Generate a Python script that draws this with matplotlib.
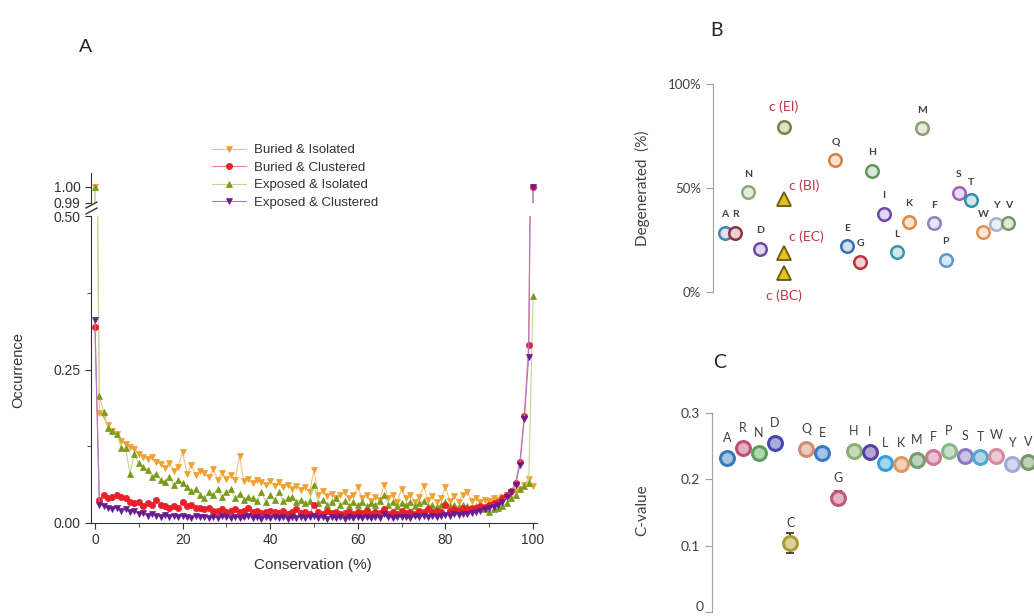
import numpy as np
import matplotlib.pyplot as plt
from matplotlib.lines import Line2D

# ---- panel A data: occurrence vs conservation (%) ----
conservation = np.arange(0, 101)

buried_isolated = [1.0,
    0.179, 0.175, 0.160, 0.150, 0.145, 0.134, 0.128, 0.124, 0.120, 0.112,
    0.108, 0.105, 0.108, 0.100, 0.096, 0.090, 0.098, 0.085, 0.092, 0.116,
    0.080, 0.094, 0.078, 0.085, 0.082, 0.075, 0.088, 0.070, 0.082, 0.072,
    0.078, 0.070, 0.109, 0.068, 0.072, 0.065, 0.070, 0.066, 0.062, 0.068,
    0.060, 0.066, 0.058, 0.062, 0.056, 0.060, 0.054, 0.058, 0.050, 0.086,
    0.046, 0.052, 0.044, 0.048, 0.040, 0.046, 0.050, 0.040, 0.045, 0.058,
    0.040, 0.046, 0.036, 0.042, 0.038, 0.062, 0.040, 0.046, 0.035, 0.055,
    0.040, 0.046, 0.034, 0.042, 0.060, 0.038, 0.044, 0.034, 0.040, 0.058,
    0.036, 0.044, 0.034, 0.046, 0.050, 0.036, 0.040, 0.034, 0.038, 0.036,
    0.040, 0.038, 0.042, 0.045, 0.048, 0.052, 0.056, 0.062, 0.072, 0.060]

buried_clustered = [0.320,
    0.038, 0.045, 0.040, 0.042, 0.045, 0.043, 0.040, 0.035, 0.033, 0.035,
    0.028, 0.033, 0.030, 0.038, 0.030, 0.028, 0.025, 0.027, 0.024, 0.035,
    0.028, 0.030, 0.025, 0.025, 0.022, 0.024, 0.020, 0.020, 0.022, 0.018,
    0.020, 0.022, 0.018, 0.020, 0.024, 0.018, 0.020, 0.016, 0.018, 0.020,
    0.018, 0.016, 0.020, 0.015, 0.018, 0.022, 0.016, 0.018, 0.015, 0.030,
    0.018, 0.015, 0.020, 0.016, 0.018, 0.014, 0.016, 0.018, 0.014, 0.018,
    0.016, 0.020, 0.015, 0.018, 0.016, 0.022, 0.015, 0.018, 0.014, 0.020,
    0.016, 0.018, 0.015, 0.020, 0.018, 0.022, 0.018, 0.020, 0.018, 0.030,
    0.020, 0.022, 0.020, 0.024, 0.022, 0.025, 0.024, 0.028, 0.026, 0.030,
    0.032, 0.035, 0.040, 0.045, 0.052, 0.065, 0.100, 0.175, 0.290, 1.000]

exposed_isolated = [1.0,
    0.207, 0.180, 0.155, 0.150, 0.145, 0.122, 0.122, 0.080, 0.113, 0.097,
    0.092, 0.086, 0.075, 0.080, 0.070, 0.067, 0.075, 0.062, 0.070, 0.065,
    0.058, 0.052, 0.055, 0.045, 0.040, 0.050, 0.045, 0.055, 0.042, 0.050,
    0.055, 0.040, 0.048, 0.038, 0.043, 0.040, 0.036, 0.050, 0.035, 0.045,
    0.038, 0.050, 0.036, 0.040, 0.043, 0.035, 0.038, 0.032, 0.036, 0.062,
    0.032, 0.038, 0.030, 0.035, 0.040, 0.030, 0.036, 0.028, 0.034, 0.030,
    0.035, 0.028, 0.032, 0.030, 0.036, 0.045, 0.030, 0.034, 0.028, 0.032,
    0.030, 0.035, 0.028, 0.032, 0.036, 0.028, 0.030, 0.026, 0.030, 0.034,
    0.028, 0.030, 0.026, 0.030, 0.028, 0.025, 0.028, 0.024, 0.022, 0.018,
    0.022, 0.025, 0.028, 0.032, 0.040, 0.045, 0.055, 0.060, 0.065, 0.370]

exposed_clustered = [0.330,
    0.030, 0.028, 0.025, 0.022, 0.025, 0.020, 0.022, 0.018, 0.020, 0.015,
    0.016, 0.012, 0.015, 0.012, 0.010, 0.013, 0.010, 0.012, 0.009, 0.012,
    0.010, 0.008, 0.011, 0.009, 0.010, 0.008, 0.010, 0.008, 0.011, 0.009,
    0.008, 0.010, 0.008, 0.009, 0.011, 0.008, 0.009, 0.007, 0.010, 0.008,
    0.009, 0.008, 0.010, 0.007, 0.009, 0.008, 0.010, 0.008, 0.009, 0.012,
    0.008, 0.009, 0.007, 0.010, 0.008, 0.009, 0.007, 0.009, 0.008, 0.010,
    0.008, 0.009, 0.008, 0.010, 0.008, 0.015, 0.009, 0.008, 0.010, 0.009,
    0.010, 0.008, 0.011, 0.009, 0.012, 0.010, 0.011, 0.009, 0.012, 0.013,
    0.012, 0.014, 0.013, 0.015, 0.014, 0.016, 0.018, 0.020, 0.022, 0.024,
    0.026, 0.030, 0.035, 0.042, 0.050, 0.062, 0.095, 0.170, 0.270, 1.000]

# ---- panel B data: degenerated (%) ----
b_letters = ['A', 'R', 'N', 'D', 'Q', 'E', 'G', 'H', 'I', 'L',
             'K', 'M', 'F', 'P', 'S', 'T', 'W', 'Y', 'V']
b_xpos = [1.0, 1.85, 2.9, 3.9, 10.2, 11.2, 12.25, 13.25, 14.25, 15.3,
          16.3, 17.4, 18.4, 19.4, 20.5, 21.5, 22.5, 23.6, 24.6]
b_values = [28.4, 28.4, 48.0, 20.7, 63.5, 22.0, 14.4, 58.2, 37.5, 19.2,
            33.7, 78.8, 33.0, 15.4, 47.6, 44.2, 28.8, 32.7, 33.0]
b_colors = ['#4a80b0', '#903040', '#8aaa70', '#7048a8', '#d88040', '#3870b0',
            '#c03038', '#60985a', '#7048a8', '#3898a8', '#e08840', '#8aa070',
            '#9080c0', '#5898d0', '#a060c0', '#3090a8', '#e09050', '#a8b0d0',
            '#789860']
cys_labels = ['c (EI)', 'c (BI)', 'c (EC)', 'c (BC)']
cys_xpos = 5.9
cys_values = [79.3, 44.7, 18.8, 9.0]

# ---- panel C data: C-value ----
c_letters = ['A', 'R', 'N', 'D', 'C', 'Q', 'E', 'G', 'H', 'I',
             'L', 'K', 'M', 'F', 'P', 'S', 'T', 'W', 'Y', 'V']
c_values = [0.232, 0.247, 0.240, 0.255, 0.104, 0.246, 0.240, 0.172, 0.243, 0.241,
            0.225, 0.224, 0.229, 0.234, 0.243, 0.235, 0.234, 0.236, 0.224, 0.226]
c_errors = [0.004, 0.004, 0.004, 0.004, 0.015, 0.004, 0.004, 0.010, 0.004, 0.007,
            0.008, 0.009, 0.005, 0.004, 0.004, 0.004, 0.004, 0.004, 0.008, 0.008]
c_colors = ['#3a7ab8', '#c05070', '#58a058', '#4848b0', '#b09a30', '#d08c70',
            '#3a78c8', '#c05878', '#88b070', '#5a40a0', '#30a0d8', '#e09860',
            '#70a070', '#d07898', '#88b888', '#8878c8', '#50a8d0', '#d888a0',
            '#a0a8d8', '#789868']


def lighten(col, amount):
    rgb = np.array(plt.matplotlib.colors.to_rgb(col))
    return tuple(rgb * (1 - amount) + amount)


W, H = 1034, 616
fig = plt.figure(figsize=(W / 100, H / 100), dpi=100)
dark = '#333333'

# ================= panel A =================
plt.rcParams['font.family'] = ['Liberation Sans', 'DejaVu Sans']
x0, x1 = 91, 537
ax_low = fig.add_axes([x0 / W, 1 - 523 / H, (x1 - x0) / W, 307 / H])
ax_up = fig.add_axes([x0 / W, 1 - 203 / H, (x1 - x0) / W, 30 / H])

series = [
    (buried_isolated, 'Buried & Isolated', 'v', '#f0a030', '#f5c27a'),
    (exposed_isolated, 'Exposed & Isolated', '^', '#7a9a18', '#c0d890'),
    (buried_clustered, 'Buried & Clustered', 'o', '#e8202a', '#f07a88'),
    (exposed_clustered, 'Exposed & Clustered', 'v', '#6a1a90', '#a878c8'),
]
handles = {}
for ax in (ax_low, ax_up):
    for vals, lab, mk, mc, lc in series:
        h, = ax.plot(conservation, vals, '-', color=lc, lw=0.8, marker=mk,
                     ms=4.5, mfc=mc, mec=mc, mew=0.5, label=lab)
        handles[lab] = h
    ax.set_xlim(-0.9, 100.9)
    for s in ['top', 'right']:
        ax.spines[s].set_visible(False)
    ax.spines['left'].set_color(dark)
    ax.spines['bottom'].set_color(dark)
    ax.tick_params(colors=dark, labelsize=10, length=4)

ax_low.set_ylim(0, 0.5)
ax_low.set_yticks([0, 0.25, 0.5])
ax_low.set_yticklabels(['0.00', '0.25', '0.50'])
ax_low.set_yticks([0.125, 0.375], minor=True)
ax_low.set_xticks([0, 20, 40, 60, 80, 100])
ax_low.set_xticks([10, 30, 50, 70, 90], minor=True)
ax_low.tick_params(which='minor', length=3, colors=dark)

ax_up.set_ylim(0.99, 1.00875)
ax_up.set_yticks([0.99, 1.0])
ax_up.set_yticklabels(['0.99', '1.00'])
ax_up.spines['bottom'].set_visible(False)
ax_up.set_xticks([])

# axis break marks
for yb in (205, 211):
    fig.add_artist(Line2D([86 / W, 97 / W], [1 - (yb + 3) / H, 1 - (yb - 3) / H],
                          color=dark, lw=1))

order = ['Buried & Isolated', 'Buried & Clustered', 'Exposed & Isolated', 'Exposed & Clustered']
fig.legend([handles[k] for k in order], order, loc='upper left',
           bbox_to_anchor=(212 / W, 1 - 144 / H), frameon=False, fontsize=9.5,
           handlelength=2.6, handletextpad=0.6, labelspacing=0.4,
           borderpad=0, borderaxespad=0, labelcolor=dark)

fig.text(85 / W, 1 - 47 / H, 'A', fontsize=14, color='#222222', ha='center', va='center')
fig.text(18 / W, 1 - 370 / H, 'Occurrence', rotation=90, fontsize=10.5, color=dark,
         ha='center', va='center')
fig.text(313 / W, 1 - 565 / H, 'Conservation (%)', fontsize=11, color=dark,
         ha='center', va='center')

# ================= panel B =================
bc_font = ['Lato', 'DejaVu Sans']
gray = '#a0a0a0'
txt = '#404040'
axb = fig.add_axes([713 / W, 1 - 292 / H, (W - 713) / W, 208 / H])
axb.set_xlim(0, 26.75)
axb.set_ylim(0, 100)
for s in ['top', 'right', 'bottom']:
    axb.spines[s].set_visible(False)
axb.spines['left'].set_color(gray)
axb.set_xticks([])
axb.set_yticks([0, 50, 100])
axb.set_yticklabels(['0%', '50%', '100%'], fontfamily=bc_font)
axb.tick_params(axis='y', colors=gray, labelcolor=txt, labelsize=9.5, length=5)
axb.patch.set_alpha(0)

for xp, v, lab, col in zip(b_xpos, b_values, b_letters, b_colors):
    axb.plot(xp, v, 'o', ms=9, mew=1.8, mec=col, mfc=lighten(col, 0.78), clip_on=False)
    axb.annotate(lab, (xp, v), xytext=(0, 13), textcoords='offset points',
                 ha='center', va='center', fontsize=7.5, color=txt,
                 fontfamily=bc_font, fontweight='bold')

cys_marks = ['o', '^', '^', '^']
cys_offsets = [(0, 14.5), (15, 9.5), (16, 12), (0, -16.5)]
for lab, v, mk, off in zip(cys_labels, cys_values, cys_marks, cys_offsets):
    if mk == 'o':
        axb.plot(cys_xpos, v, 'o', ms=9, mew=1.8, mec='#808040',
                 mfc=lighten('#808040', 0.75), clip_on=False)
    else:
        axb.plot(cys_xpos, v, '^', ms=9.5, mew=1.3, mec='#6a5a10',
                 mfc='#e8c020', clip_on=False)
    axb.annotate(lab, (cys_xpos, v), xytext=off, textcoords='offset points',
                 ha='center', va='center', fontsize=10, color='#c0384a',
                 fontfamily=bc_font)

fig.text(716 / W, 1 - 30 / H, 'B', fontsize=14, color='#222222', ha='center',
         va='center', fontfamily=bc_font)
fig.text(642 / W, 1 - 188 / H, 'Degenerated  (%)', rotation=90, fontsize=11,
         color=txt, ha='center', va='center', fontfamily=bc_font)

# ================= panel C =================
axc = fig.add_axes([712 / W, 0, (W - 712) / W, 203 / H])
c_idx = np.arange(len(c_letters))
axc.set_xlim(-0.95, 19.38)
axc.set_ylim(-0.0053, 0.3)
for s in ['top', 'right', 'bottom']:
    axc.spines[s].set_visible(False)
axc.spines['left'].set_color(gray)
axc.spines['left'].set_bounds(0, 0.3)
axc.set_xticks([])
axc.set_yticks([0, 0.1, 0.2, 0.3])
axc.set_yticklabels(['', '0.1', '0.2', '0.3'], fontfamily=bc_font)
axc.tick_params(axis='y', colors=gray, labelcolor=txt, labelsize=10, length=5)
axc.patch.set_alpha(0)
# the "0" label sits at the cut bottom edge; keep it inside the picture
fig.text(704 / W, 1 - 607 / H, '0', fontsize=10, color=txt, ha='right',
         va='center', fontfamily=bc_font)

for i, v, e, lab, col in zip(c_idx, c_values, c_errors, c_letters, c_colors):
    axc.errorbar(i, v, yerr=e, fmt='none', ecolor='#303030', elinewidth=1.2,
                 capsize=3, capthick=1.2, clip_on=False)
    axc.plot(i, v, 'o', ms=10, mew=2.2, mec=col, mfc=lighten(col, 0.55),
             clip_on=False)
    axc.annotate(lab, (i, v), xytext=(0, 14.5), textcoords='offset points',
                 ha='center', va='center', fontsize=9, color=txt,
                 fontfamily=bc_font)

fig.text(720 / W, 1 - 362 / H, 'C', fontsize=14, color='#222222', ha='center',
         va='center', fontfamily=bc_font)
fig.text(642 / W, 1 - 510 / H, 'C-value', rotation=90, fontsize=11,
         color=txt, ha='center', va='center', fontfamily=bc_font)

fig.savefig('out.png', dpi=100)
